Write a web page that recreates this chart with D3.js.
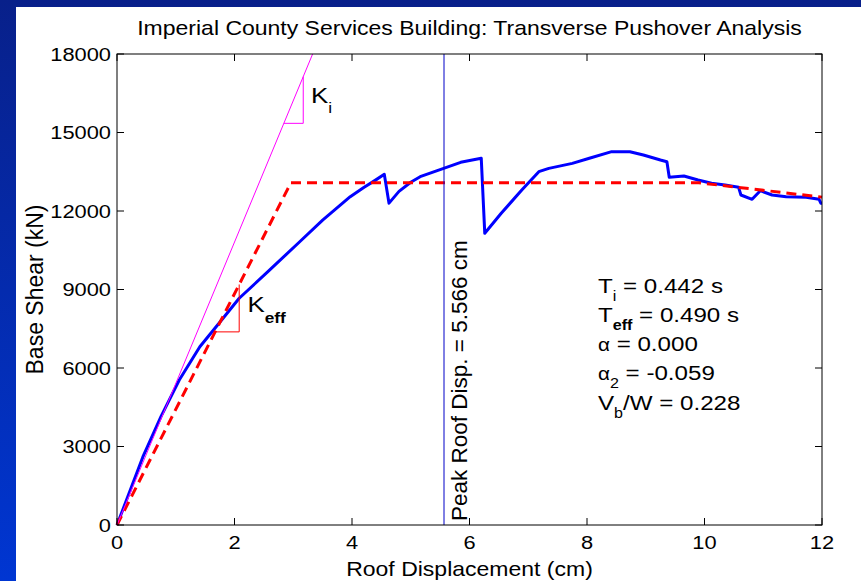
<!DOCTYPE html>
<html>
<head>
<meta charset="utf-8">
<script src="https://cdn.jsdelivr.net/npm/d3@7"></script>
<style>
body { margin: 0; overflow: hidden; }
text { font-family: "Liberation Sans", Arial, sans-serif; fill: #000; }
</style>
</head>
<body>
<div class="chart"></div>
<script>
// pushover curve (roof displacement cm, base shear kN)
const dispCm = [0, 0.44, 0.75, 1.06, 1.41, 1.75, 2.08, 2.55, 3.11, 3.5, 3.97, 4.2, 4.4, 4.55, 4.63,
    4.8, 5.0, 5.16, 5.56, 5.85, 6.2, 6.26, 6.54, 6.89, 7.18, 7.35, 7.75, 8.04, 8.42, 8.73,
    8.96, 9.25, 9.36, 9.40, 9.65, 9.89, 10.12, 10.35, 10.58, 10.62, 10.81, 10.95, 11.15, 11.39, 11.73,
    11.95, 11.98, 12.0];
const shearKN = [0, 2600, 4150, 5540, 6810, 7750, 8665, 9643, 10826, 11650, 12546, 12900, 13180, 13400, 12300,
    12750, 13100, 13311, 13630, 13860, 14014, 11147, 11912, 12802, 13503, 13630, 13820, 14014, 14267, 14267,
    14140, 13950, 13885, 13290, 13338, 13185, 13058, 12993, 12905, 12611, 12446, 12776, 12611, 12547, 12522,
    12446, 12300, 12300];

// idealised curve
const bilinX = [0, 2.96, 9.9, 12];
const bilinY = [0, 13080, 13080, 12530];

// initial stiffness line + slope triangles
const kiX = [0, 3.33];
const kiY = [0, 18000];
const kiTriX = [2.84, 3.17, 3.17];
const kiTriY = [15350, 15350, 17134];
const keffTriX = [1.67, 2.08, 2.08];
const keffTriY = [7380, 7380, 9192];

const peakDisp = 5.566;

const xTicks = [0, 2, 4, 6, 8, 10, 12];
const yTicks = [0, 3000, 6000, 9000, 12000, 15000, 18000];

const statMain = ["T", "T", "α", "α", "V"];
const statSub = ["i", "eff", "", "2", "b"];
const statRest = [" = 0.442 s", " = 0.490 s", " = 0.000", " = -0.059", "/W = 0.228"];

const width = 861;
const height = 581;
const SX = 1.15; // glyphs in the picture are a bit wide

const svg = d3.select('.chart')
    .append('svg')
    .attr('width', width)
    .attr('height', height)

const grad = svg.append("defs")
    .append("linearGradient")
    .attr("id", "bg")
    .attr("x1", "0%").attr("y1", "0%")
    .attr("x2", "0%").attr("y2", "100%");
grad.append("stop").attr("offset", "0%").attr("stop-color", "#08208a");
grad.append("stop").attr("offset", "100%").attr("stop-color", "#0036d2");

svg.append("rect").attr("width", width).attr("height", height).attr("fill", "url(#bg)");
svg.append("rect").attr("x", 16).attr("y", 7).attr("width", width - 16).attr("height", height - 7).attr("fill", "#fff");

const x = d3.scaleLinear().domain([0, 12]).range([117, 822]);
const y = d3.scaleLinear().domain([0, 18000]).range([525, 54]);

function htext(x0, y0, size, anchor) {
    return svg.append('text')
        .attr('transform', `translate(${x0},${y0}) scale(${SX},1)`)
        .attr('font-size', size)
        .attr('text-anchor', anchor);
}

const line = d3.line().x(d => x(d[0])).y(d => y(d[1]));

// pushover curve
svg.append("path")
    .datum(d3.zip(dispCm, shearKN))
    .attr("d", line)
    .attr("fill", "none")
    .attr("stroke", "#0000ff")
    .attr("stroke-width", 3)
    .attr("stroke-linejoin", "round");

// bilinear
svg.append("path")
    .datum(d3.zip(bilinX, bilinY))
    .attr("d", line)
    .attr("fill", "none")
    .attr("stroke", "#ff0000")
    .attr("stroke-width", 3)
    .attr("stroke-dasharray", "10,6");

// Ki line
svg.append("path")
    .datum(d3.zip(kiX, kiY))
    .attr("d", line)
    .attr("fill", "none")
    .attr("stroke", "#ff00ff")
    .attr("stroke-width", 1);

svg.append("path")
    .datum(d3.zip(kiTriX, kiTriY))
    .attr("d", line)
    .attr("fill", "none")
    .attr("stroke", "#ff00ff")
    .attr("stroke-width", 1);

svg.append("path")
    .datum(d3.zip(keffTriX, keffTriY))
    .attr("d", line)
    .attr("fill", "none")
    .attr("stroke", "#ff0000")
    .attr("stroke-width", 1);

// peak displacement
svg.append("line")
    .attr("x1", x(peakDisp)).attr("x2", x(peakDisp))
    .attr("y1", y(18000)).attr("y2", y(0))
    .attr("stroke", "#0000c8")
    .attr("stroke-width", 1);

svg.append("text")
    .attr("transform", `translate(${x(peakDisp) + 23},521) rotate(-90)`)
    .attr("font-size", 22.5)
    .text("Peak Roof Disp. = " + peakDisp + " cm");

// axes box with inner ticks on all sides
svg.append("rect")
    .attr("x", x(0)).attr("y", y(18000))
    .attr("width", x(12) - x(0)).attr("height", y(0) - y(18000))
    .attr("fill", "none")
    .attr("stroke", "#000")
    .attr("stroke-width", 1);

svg.selectAll(".xt")
    .data(xTicks)
    .enter()
    .append("path")
    .attr("d", d => `M${x(d)},${y(0)}v-7M${x(d)},${y(18000)}v7`)
    .attr("stroke", "#000");

svg.selectAll(".yt")
    .data(yTicks)
    .enter()
    .append("path")
    .attr("d", d => `M${x(0)},${y(d)}h7M${x(12)},${y(d)}h-7`)
    .attr("stroke", "#000");

xTicks.forEach(d => htext(x(d), 549, 19, "middle").text(d));
yTicks.forEach(d => htext(111, y(d) + 6.7, 19, "end").text(d));

// titles
htext(469.5, 35, 20, "middle").text("Imperial County Services Building: Transverse Pushover Analysis");
htext(469.5, 576, 20, "middle").text("Roof Displacement (cm)");
svg.append("text")
    .attr("transform", `translate(43,${(y(0) + y(18000)) / 2}) rotate(-90)`)
    .attr("font-size", 23)
    .attr("text-anchor", "middle")
    .text("Base Shear (kN)");

// stiffness labels
const ki = htext(311, 103, 22.5, "start");
ki.append("tspan").text("K");
ki.append("tspan").attr("dy", 10).attr("font-size", 15).text("i");

const ke = htext(247.5, 311.5, 22.5, "start");
ke.append("tspan").text("K");
ke.append("tspan").attr("dy", 11).attr("font-size", 15).attr("font-weight", "bold").text("eff");

// stats block
const statY = [293, 322, 351, 380, 410];
statMain.forEach((m, i) => {
    const t = htext(598, statY[i], 21, "start");
    t.append("tspan").attr("font-size", m === "α" ? 18 : 21).text(m);
    if (statSub[i]) {
        t.append("tspan").attr("dy", 8).attr("font-size", 14)
            .attr("font-weight", statSub[i] === "eff" ? "bold" : null)
            .text(statSub[i]);
        t.append("tspan").attr("dy", -8).text(statRest[i]);
    } else {
        t.append("tspan").text(statRest[i]);
    }
});
</script>
</body>
</html>
